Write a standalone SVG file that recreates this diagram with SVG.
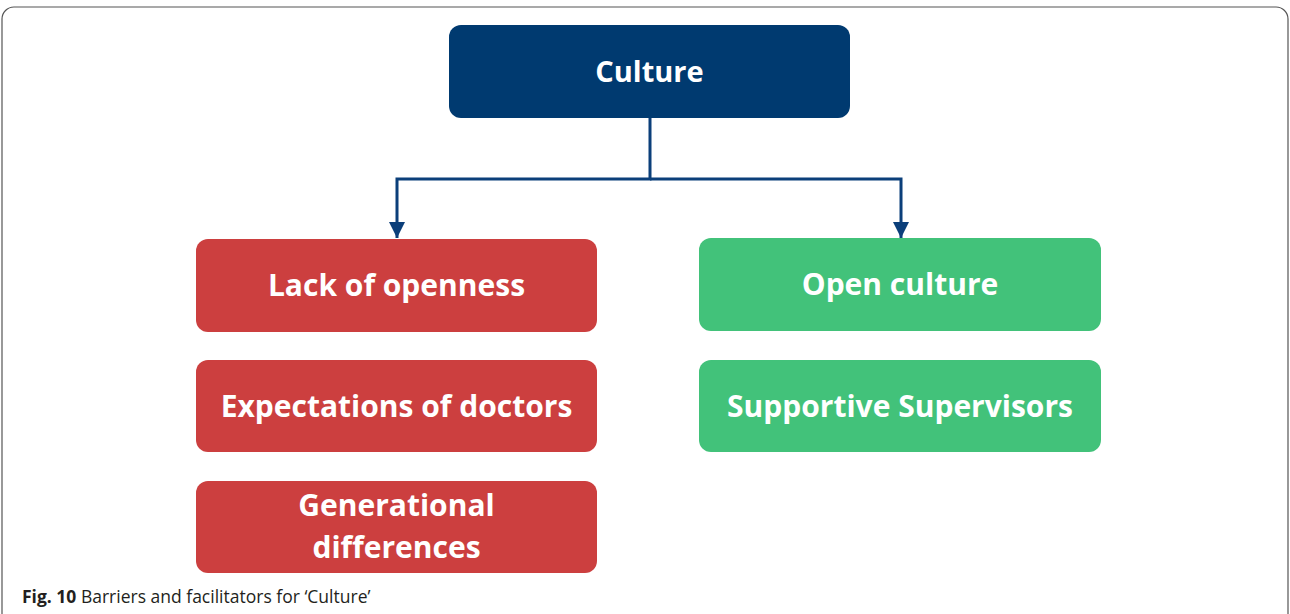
<svg xmlns="http://www.w3.org/2000/svg" width="1290" height="614" viewBox="0 0 1290 614">
<style>
.lbl{font-family:"Open Sans","Noto Sans",sans-serif;font-weight:bold;fill:#ffffff;text-anchor:middle;font-size:30px}
.red{fill:#CC3F3F}
.green{fill:#42C27A}
.conn{fill:none;stroke:#0B3F7A;stroke-width:3}
.cap{font-family:"Open Sans","Noto Sans",sans-serif;font-size:17.5px;fill:#231f20}
</style>
<defs>
<marker id="ah" viewBox="0 0 10 10" refX="10" refY="5" markerWidth="5.5" markerHeight="5.5" markerUnits="strokeWidth" orient="auto">
<path d="M0,0 L10,5 L0,10 Z" fill="#0B3F7A"/>
</marker>
</defs>
<rect x="2" y="7" width="1286" height="640" rx="12" fill="#ffffff" stroke="#555" stroke-width="1.2"/>
<g id="culture"><rect x="449" y="25" width="401" height="93" rx="12" fill="#003A70"/><text class="lbl" x="649.500" y="82" style="font-size:29px">Culture</text></g>
<g id="connectors">
<polyline class="conn" points="650,118 650,179 397,179 397,238" marker-end="url(#ah)"/>
<polyline class="conn" points="650,179 901,179 901,238" marker-end="url(#ah)"/>
</g>
<g id="lack"><rect class="red" x="196" y="239" width="401" height="93" rx="12"/><text class="lbl" x="396.500" y="296">Lack of openness</text></g>
<g id="expect"><rect class="red" x="196" y="360" width="401" height="92" rx="12"/><text class="lbl" x="396.500" y="417">Expectations of doctors</text></g>
<g id="gen"><rect class="red" x="196" y="481" width="401" height="92" rx="12"/><text class="lbl" x="396.500" y="516">Generational</text><text class="lbl" x="396.500" y="558">differences</text></g>
<g id="open"><rect class="green" x="699" y="238" width="402" height="93" rx="12"/><text class="lbl" x="900" y="295">Open culture</text></g>
<g id="support"><rect class="green" x="699" y="360" width="402" height="92" rx="12"/><text class="lbl" x="900" y="417">Supportive Supervisors</text></g>
<text class="cap" x="22" y="603"><tspan font-weight="bold">Fig. 10</tspan>  Barriers and facilitators for ‘Culture’</text>
</svg>
